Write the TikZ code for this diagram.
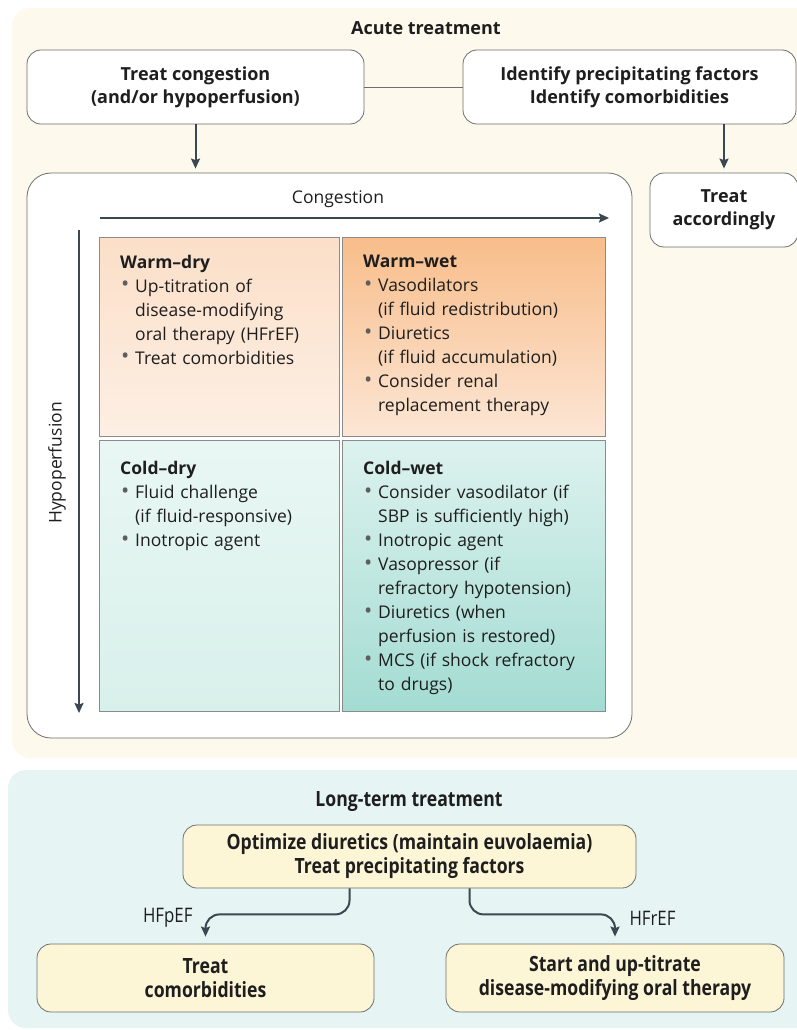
\documentclass[tikz,border=0pt]{standalone}
\usepackage{fontspec}
\setmainfont{Open Sans}
\newfontfamily\condfont[FakeStretch=0.84]{Open Sans}
\usetikzlibrary{arrows.meta,calc}
\definecolor{acutebg}{HTML}{FDF9EC}
\definecolor{longbg}{HTML}{E6F5F3}
\definecolor{bordergray}{HTML}{6E6E6E}
\definecolor{arrowcol}{HTML}{3B4851}
\definecolor{txt}{HTML}{1E1E1E}
\definecolor{bulgray}{HTML}{5E5E5E}
\definecolor{ltbox}{HTML}{FCF5D6}
\definecolor{wdtop}{HTML}{FBDFC8}
\definecolor{wdbot}{HTML}{FDEFE4}
\definecolor{wwtop}{HTML}{F8BD8A}
\definecolor{wwbot}{HTML}{FCE6D5}
\definecolor{cdtop}{HTML}{E9F7F4}
\definecolor{cdbot}{HTML}{D8F0EB}
\definecolor{cwtop}{HTML}{DDF2EF}
\definecolor{cwbot}{HTML}{A3DCD2}
\newcommand\bitem{\par\hangindent=15pt\hangafter=1\noindent\makebox[15pt][l]{\hspace{1pt}\textcolor{bulgray}{\raisebox{0.5pt}{\scalebox{1.25}{•}}}}}
\newcommand\nl{\hfil\break}
\begin{document}
\begin{tikzpicture}[x=1pt,y=-1pt,
  every node/.style={text=txt},
  wbox/.style={draw=bordergray, line width=0.8pt, rounded corners=14pt, fill=white, align=center, font=\fontsize{18}{23}\selectfont\bfseries},
  ltb/.style={draw=bordergray, line width=0.8pt, rounded corners=14pt, fill=ltbox, align=center, font=\condfont\fontsize{21}{24}\selectfont\bfseries},
  quad/.style={draw=bordergray!80, line width=0.8pt, inner sep=0pt},
  qtext/.style={anchor=north west, inner sep=0pt, text width=235pt, align=left, font=\fontsize{17.5}{24}\selectfont},
  arr/.style={draw=arrowcol, line width=2pt, -{Stealth[length=10pt,width=9pt,inset=1.5pt]}},
  title/.style={font=\fontsize{18}{22}\selectfont\bfseries},
  hflab/.style={font=\condfont\fontsize{20}{22}\selectfont}
]
\useasboundingbox (0,0) rectangle (796,1030);
% backgrounds
\fill[acutebg, rounded corners=18pt] (12,8) rectangle (830,758);
\fill[longbg, rounded corners=18pt] (8,770) rectangle (830,1028);

\node[title] (acute) at (426,28) {Acute treatment};

\node[wbox, minimum width=337pt, minimum height=74pt] (tc) at (195.5,87) {Treat congestion\\(and/or hypoperfusion)};
\node[wbox, minimum width=333pt, minimum height=74pt] (id) at (629.5,87) {Identify precipitating factors\\Identify comorbidities};
\draw[bordergray, line width=0.8pt] (tc.east) -- (id.west);

\node[wbox, minimum width=148pt, minimum height=74pt] (ta) at (724,210) {Treat\\accordingly};
\draw[arr] (id.south -| ta.north) -- ([yshift=4pt]ta.north);

% big matrix box
\node[draw=bordergray, line width=0.8pt, rounded corners=24pt, fill=white, minimum width=605pt, minimum height=565pt, inner sep=0pt] (mat) at (329.5,455.5) {};
\draw[arr] (tc.south) -- ([yshift=4pt]tc.south |- mat.north);

\node[font=\fontsize{17.5}{20}\selectfont] (cong) at (338,199) {Congestion};
\coordinate (c1) at (100,218);
\coordinate (c2) at (609,218);
\draw[arr, line width=1.8pt] (c1) -- (c2);
\coordinate (h1) at (79,230);
\coordinate (h2) at (79,713);
\draw[arr, line width=1.8pt] (h1) -- (h2);
\node[rotate=90, font=\fontsize{17.5}{20}\selectfont] (hypo) at (57,463) {Hypoperfusion};

% quadrants
\node[quad, top color=wdtop, bottom color=wdbot, minimum width=240pt, minimum height=199pt] (wd) at (219,336.5) {};
\node[quad, top color=wwtop, bottom color=wwbot, minimum width=263pt, minimum height=199pt] (ww) at (473.5,336.5) {};
\node[quad, top color=cdtop, bottom color=cdbot, minimum width=240pt, minimum height=271pt] (cd) at (219,575.5) {};
\node[quad, top color=cwtop, bottom color=cwbot, minimum width=263pt, minimum height=271pt] (cw) at (473.5,575.5) {};

\node[qtext] (wdt) at (120,255) {\textbf{Warm–dry}
\bitem Up-titration of\nl disease-modifying\nl oral therapy (HFrEF)
\bitem Treat comorbidities\par};
\node[qtext] (wwt) at (363,255) {\textbf{Warm–wet}
\bitem Vasodilators\nl (if fluid redistribution)
\bitem Diuretics\nl (if fluid accumulation)
\bitem Consider renal\nl replacement therapy\par};
\node[qtext] (cdt) at (120,461) {\textbf{Cold–dry}
\bitem Fluid challenge\nl (if fluid-responsive)
\bitem Inotropic agent\par};
\node[qtext] (cwt) at (363,461) {\textbf{Cold–wet}
\bitem Consider vasodilator (if\nl SBP is sufficiently high)
\bitem Inotropic agent
\bitem Vasopressor (if\nl refractory hypotension)
\bitem Diuretics (when\nl perfusion is restored)
\bitem MCS (if shock refractory\nl to drugs)\par};

% long-term
\node[font=\condfont\fontsize{21}{24}\selectfont\bfseries] (lt) at (409,802) {Long-term treatment};
\node[ltb, minimum width=453pt, minimum height=63pt] (opt) at (409.5,856.5) {Optimize diuretics (maintain euvolaemia)\\Treat precipitating factors};
\node[ltb, minimum width=337pt, minimum height=68pt] (tcm) at (205.5,978) {Treat\\comorbidities};
\node[ltb, minimum width=338pt, minimum height=68pt] (st) at (615,978) {Start and up-titrate\\disease-modifying oral therapy};
\draw[arr, rounded corners=14pt] ([xshift=-60pt]opt.south) -- ++(0,26) -| ([yshift=7pt]tcm.north);
\draw[arr, rounded corners=14pt] ([xshift=60pt]opt.south) -- ++(0,26) -| ([yshift=7pt]st.north);
\node[hflab, anchor=east] (hfp) at (196,918) {HFpEF};
\node[hflab, anchor=west] (hfr) at (626,918) {HFrEF};
\end{tikzpicture}
\end{document}
